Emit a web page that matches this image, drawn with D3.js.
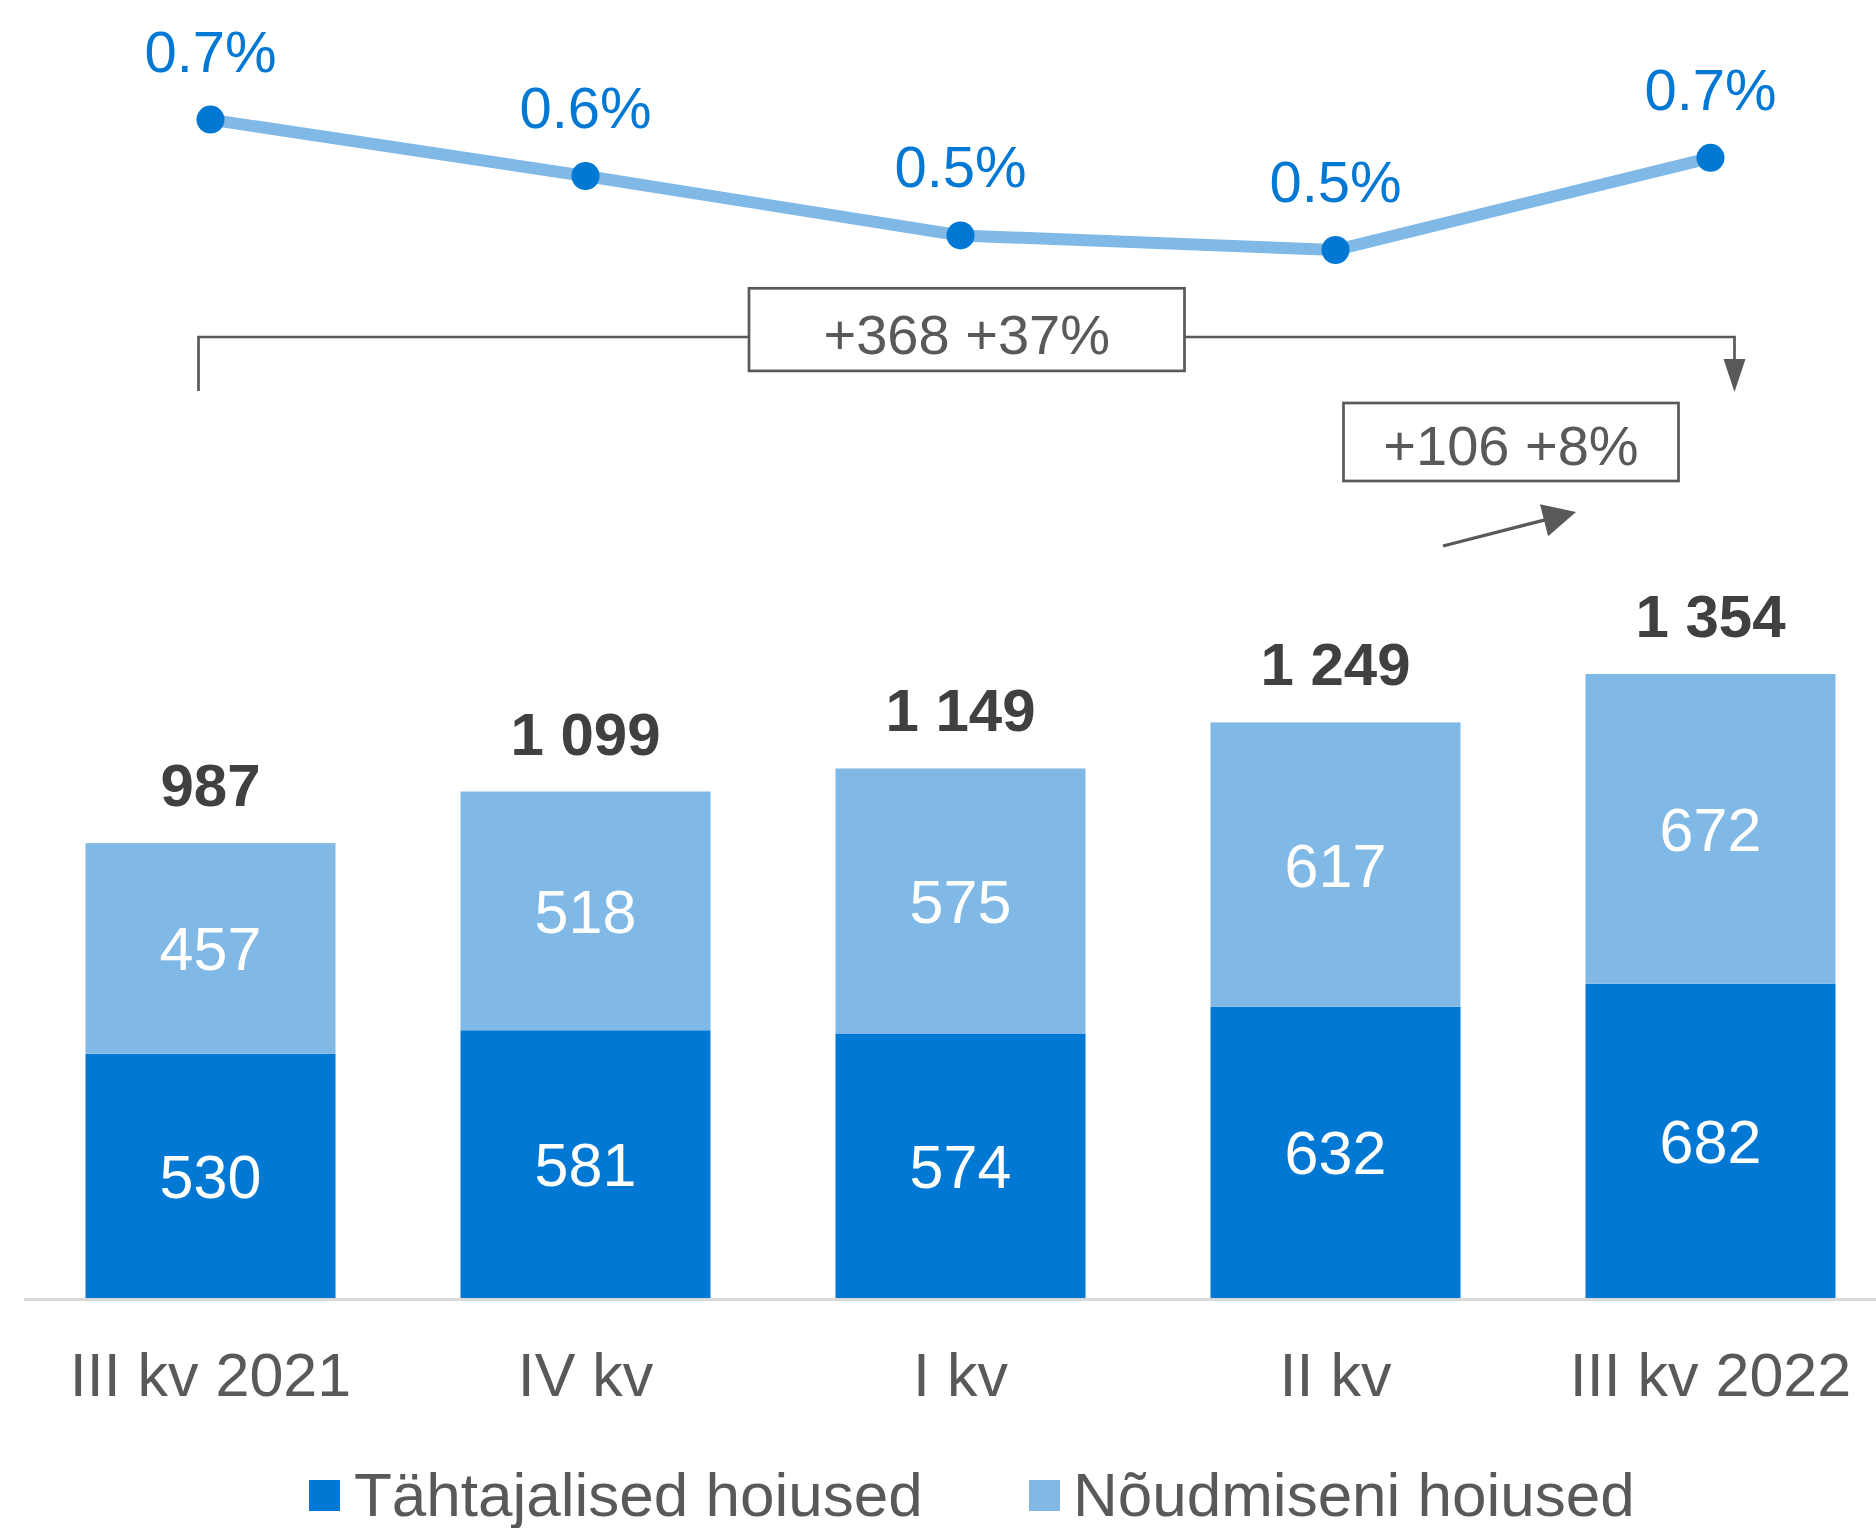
<!DOCTYPE html>
<html>
<head>
<meta charset="utf-8">
<script src="https://cdn.jsdelivr.net/npm/d3@7"></script>
<style>
  html, body { margin: 0; padding: 0; background: #ffffff; }
  svg { display: block; }
  text { font-family: "Liberation Sans", Arial, Helvetica, sans-serif; }
</style>
</head>
<body>
<svg id="chart" width="1876" height="1528"></svg>
<script>
// ---- data ----
const categories = ["III kv 2021", "IV kv", "I kv", "II kv", "III kv 2022"];
const termDeposits = [530, 581, 574, 632, 682];      // Tähtajalised hoiused
const demandDeposits = [457, 518, 575, 617, 672];    // Nõudmiseni hoiused
const totals = [987, 1099, 1149, 1249, 1354];
const totalLabels = ["987", "1 099", "1 149", "1 249", "1 354"];
const rateValues = [0.715, 0.622, 0.524, 0.500, 0.652];
const rateLabels = ["0.7%", "0.6%", "0.5%", "0.5%", "0.7%"];
const seriesNames = ["Tähtajalised hoiused", "Nõudmiseni hoiused"];
const annotationTexts = ["+368 +37%", "+106 +8%"];

// ---- style ----
const darkBlue = "#0078D4";
const lightBlue = "#80B8E6";
const grayText = "#595959";
const darkText = "#404040";

const svg = d3.select("#chart");

const x = d3.scaleBand()
  .domain(categories)
  .range([23, 1898])
  .paddingInner(1 / 3)
  .paddingOuter(1 / 6);

const y = d3.scaleLinear().domain([0, 1354]).range([1298, 674]);
const yRate = d3.scaleLinear().domain([0.5, 0.7]).range([250, 128.7]);
const cx = c => x(c) + x.bandwidth() / 2;

// ---- bars ----
const stackData = categories.map((c, i) => ({ cat: c, term: termDeposits[i], demand: demandDeposits[i] }));
const stack = d3.stack().keys(["term", "demand"])(stackData);
const colors = [darkBlue, lightBlue];

stack.forEach((layer, li) => {
  svg.append("g").selectAll("rect")
    .data(layer)
    .join("rect")
    .attr("x", d => x(d.data.cat))
    .attr("width", x.bandwidth())
    .attr("y", d => y(d[1]))
    .attr("height", d => y(d[0]) - y(d[1]))
    .attr("fill", colors[li]);

  svg.append("g").selectAll("text")
    .data(layer)
    .join("text")
    .attr("x", d => cx(d.data.cat))
    .attr("y", d => (y(d[0]) + y(d[1])) / 2)
    .attr("dy", "0.36em")
    .attr("text-anchor", "middle")
    .attr("font-size", 61)
    .attr("fill", "#ffffff")
    .text(d => d[1] - d[0]);
});

// totals
svg.append("g").selectAll("text")
  .data(categories)
  .join("text")
  .attr("x", d => cx(d))
  .attr("y", (d, i) => y(totals[i]) - 37)
  .attr("text-anchor", "middle")
  .attr("font-size", 60)
  .attr("font-weight", "bold")
  .attr("fill", darkText)
  .text((d, i) => totalLabels[i]);

// axis baseline
svg.append("line")
  .attr("x1", 24).attr("x2", 1876)
  .attr("y1", y(0) + 1.5).attr("y2", y(0) + 1.5)
  .attr("stroke", "#d9d9d9").attr("stroke-width", 3);

// category labels
const xAxis = d3.axisBottom(x).tickSize(0).tickPadding(0);
const gx = svg.append("g").attr("transform", `translate(0,${y(0)})`).call(xAxis);
gx.select(".domain").remove();
gx.selectAll("text")
  .attr("font-size", 61)
  .attr("font-family", "Liberation Sans, Arial, sans-serif")
  .attr("fill", grayText)
  .attr("dy", null)
  .attr("y", 98);

// ---- rate line ----
const linePts = categories.map((c, i) => [cx(c), yRate(rateValues[i])]);
svg.append("path")
  .attr("d", d3.line()(linePts))
  .attr("fill", "none")
  .attr("stroke", lightBlue)
  .attr("stroke-width", 12);

svg.append("g").selectAll("circle")
  .data(linePts)
  .join("circle")
  .attr("cx", d => d[0]).attr("cy", d => d[1])
  .attr("r", 14)
  .attr("fill", darkBlue);

svg.append("g").selectAll("text")
  .data(linePts)
  .join("text")
  .attr("x", d => d[0])
  .attr("y", d => d[1] - 48)
  .attr("text-anchor", "middle")
  .attr("font-size", 58)
  .attr("fill", darkBlue)
  .text((d, i) => rateLabels[i]);

// ---- annotations ----
function arrowHead(tip, from, len, width) {
  const dx = tip[0] - from[0], dy = tip[1] - from[1];
  const L = Math.hypot(dx, dy);
  const ux = dx / L, uy = dy / L;
  const bx = tip[0] - ux * len, by = tip[1] - uy * len;
  const px = -uy * width / 2, py = ux * width / 2;
  return `M${tip[0]},${tip[1]} L${bx + px},${by + py} L${bx - px},${by - py} Z`;
}

const first = categories[0], last = categories[categories.length - 1];
const bx0 = cx(first) - 12, bx1 = cx(last) + 24;
const bracketY = 337;
svg.append("path")
  .attr("d", `M${bx0},391 L${bx0},${bracketY} L${bx1},${bracketY} L${bx1},362`)
  .attr("fill", "none")
  .attr("stroke", grayText)
  .attr("stroke-width", 2.7);
svg.append("path")
  .attr("d", arrowHead([bx1, 392], [bx1, bracketY], 33, 22))
  .attr("fill", grayText);

// box 1
const box1 = { x0: 749, x1: 1184.5, y0: 288.3, y1: 370.9 };
svg.append("rect")
  .attr("x", box1.x0).attr("y", box1.y0)
  .attr("width", box1.x1 - box1.x0).attr("height", box1.y1 - box1.y0)
  .attr("fill", "#ffffff").attr("stroke", grayText).attr("stroke-width", 2.7);
svg.append("text")
  .attr("x", (box1.x0 + box1.x1) / 2).attr("y", 354)
  .attr("text-anchor", "middle").attr("font-size", 56).attr("fill", grayText)
  .text(annotationTexts[0]);

// box 2
const box2 = { x0: 1343.5, x1: 1678.5, y0: 403, y1: 481 };
svg.append("rect")
  .attr("x", box2.x0).attr("y", box2.y0)
  .attr("width", box2.x1 - box2.x0).attr("height", box2.y1 - box2.y0)
  .attr("fill", "#ffffff").attr("stroke", grayText).attr("stroke-width", 2.7);
svg.append("text")
  .attr("x", (box2.x0 + box2.x1) / 2).attr("y", 465)
  .attr("text-anchor", "middle").attr("font-size", 56).attr("fill", grayText)
  .text(annotationTexts[1]);

// small arrow
const aFrom = [1443, 546], aTip = [1576, 512];
svg.append("line")
  .attr("x1", aFrom[0]).attr("y1", aFrom[1])
  .attr("x2", 1550).attr("y2", 518.6)
  .attr("stroke", grayText).attr("stroke-width", 3.2);
svg.append("path")
  .attr("d", arrowHead(aTip, aFrom, 33, 33))
  .attr("fill", grayText);

// ---- legend ----
const legendItems = [
  { name: seriesNames[0], color: darkBlue, sx: 309, tx: 354 },
  { name: seriesNames[1], color: lightBlue, sx: 1029, tx: 1073 }
];
const lg = svg.append("g");
lg.selectAll("rect")
  .data(legendItems)
  .join("rect")
  .attr("x", d => d.sx).attr("y", 1480)
  .attr("width", 31).attr("height", 31)
  .attr("fill", d => d.color);
lg.selectAll("text")
  .data(legendItems)
  .join("text")
  .attr("x", d => d.tx).attr("y", 1516)
  .attr("font-size", 62)
  .attr("fill", grayText)
  .text(d => d.name);
</script>
</body>
</html>
